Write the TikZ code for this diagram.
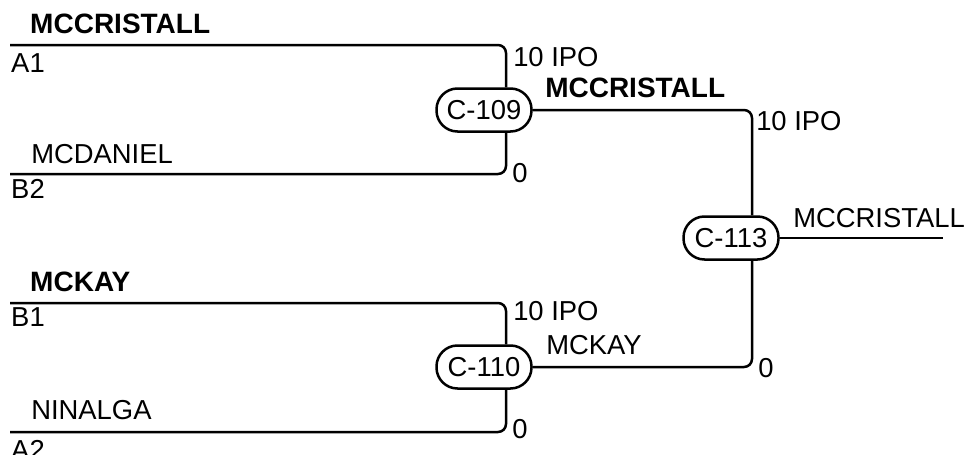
\documentclass[tikz,border=0pt]{standalone}
\usepackage{fontspec}
\setmainfont{Liberation Sans}
\tikzset{
  judge/.style={draw,rectangle,rounded corners=21pt,minimum width=95pt,minimum height=43pt,inner sep=0pt,fill=white},
  lbl/.style={anchor=base west,inner sep=0pt},
  winner/.style={font=\fontsize{28}{32}\selectfont\bfseries},
}
\begin{document}
\begin{tikzpicture}[x=1pt,y=-1pt,line width=2.5pt,every node/.style={font=\fontsize{27.4}{31}\selectfont}]
  \useasboundingbox (0,0) rectangle (970,455);

  % entrants
  \coordinate (A1) at (10,45);
  \coordinate (B2) at (10,174);
  \coordinate (B1) at (10,303);
  \coordinate (A2) at (10,432);
  \coordinate (win) at (943,238);

  \begin{scope}[every node/.append style={judge}]
    \node (c109) at (484,110) {C-109};
    \node (c110) at (484,367) {C-110};
    \node (c113) at (731,238) {C-113};
  \end{scope}

  \begin{scope}[every node/.append style={lbl}]
    \node[winner] (nA1) at (29,34) {MCCRISTALL};
    \node (sA1) at (10,72) {A1};
    \node (nB2) at (30,163) {MCDANIEL};
    \node (sB2) at (10,198) {B2};
    \node[winner] (nB1) at (29,291) {MCKAY};
    \node (sB1) at (10,326) {B1};
    \node (nA2) at (30,419) {NINALGA};
    \node (sA2) at (10,459) {A2};
    \node (p109a) at (512,66) {10 IPO};
    \node (p109b) at (511,182) {0};
    \node[winner] (w109) at (544,97) {MCCRISTALL};
    \node (p110a) at (512,320) {10 IPO};
    \node (p110b) at (511,438) {0};
    \node (w110) at (545,354) {MCKAY};
    \node (p113a) at (755,130) {10 IPO};
    \node (p113b) at (757,377) {0};
    \node (w113) at (792,227) {MCCRISTALL};
  \end{scope}

  \begin{scope}[rounded corners=8pt]
    \draw (A1) -| ([xshift=22pt]c109.north);
    \draw (B2) -| ([xshift=22pt]c109.south);
    \draw (B1) -| ([xshift=22pt]c110.north);
    \draw (A2) -| ([xshift=22pt]c110.south);
    \draw (c109.east) -| ([xshift=21pt]c113.north);
    \draw (c110.east) -| ([xshift=21pt]c113.south);
    \draw (c113.east) -- (win);
  \end{scope}
\end{tikzpicture}
\end{document}
